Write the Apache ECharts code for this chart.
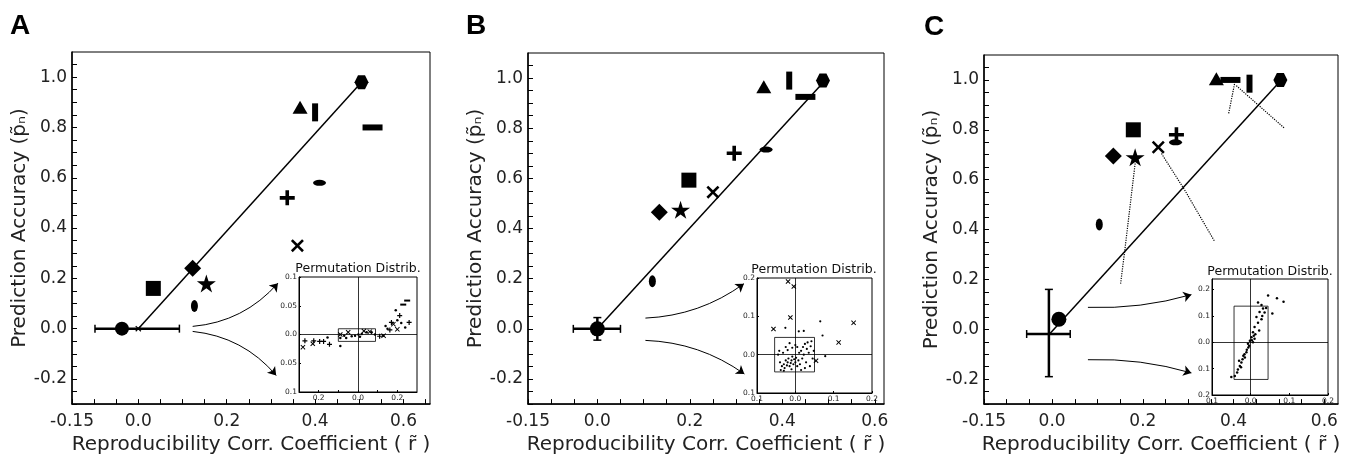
<!DOCTYPE html>
<html>
<head>
<meta charset="utf-8">
<script src="https://cdn.jsdelivr.net/npm/echarts@6/dist/echarts.min.js"></script>
<style>html,body{margin:0;padding:0;background:#fff;} #graph{width:1345px;height:460px;}</style>
</head>
<body>
<div id="graph"></div>
<script>
// marker order shared by the three panels
const markerNames = ['hexagon','triangle','vbar','hbar','hellipse','plus','cross','diamond','star','square','vellipse'];

// panel A
const aX = [0.505, 0.366, 0.400, 0.530, 0.410, 0.337, 0.360, 0.123, 0.154, 0.034, 0.127];
const aY = [0.98, 0.88, 0.86, 0.80, 0.58, 0.52, 0.33, 0.24, 0.18, 0.16, 0.09];
const aRef = [-0.037, 0.0];
const aErrX = [[-0.098, 0.0], [0.093, 0.0]];
const aFit = [[0.0, 0.0], [0.505, 0.98]];
const aArrows = [[0.123, 0.009, 0.316, 0.181], [0.123, -0.011, 0.312, -0.186]];

// panel B
const bX = [0.488, 0.360, 0.415, 0.450, 0.365, 0.296, 0.250, 0.134, 0.180, 0.198, 0.119];
const bY = [0.99, 0.965, 0.99, 0.925, 0.715, 0.70, 0.545, 0.465, 0.475, 0.593, 0.19];
const bRef = [0.0, 0.0];
const bErrX = [[-0.052, 0.0], [0.05, 0.0]];
const bErrY = [[0.0, 0.045], [0.0, -0.045]];
const bFit = [[0.0, 0.0], [0.49, 0.985]];
const bArrows = [[0.104, 0.043, 0.317, 0.18], [0.104, -0.046, 0.318, -0.18]];

// panel C
const cX = [0.503, 0.362, 0.435, 0.393, 0.272, 0.274, 0.234, 0.135, 0.183, 0.179, 0.104];
const cY = [1.0, 1.005, 0.985, 1.0, 0.75, 0.78, 0.73, 0.695, 0.69, 0.80, 0.42];
const cRef = [0.015, 0.04];
const cErrX = [[-0.056, -0.019], [0.04, -0.019]];
const cErrY = [[-0.007, 0.16], [-0.007, -0.19]];
const cFit = [[-0.004, -0.016], [0.5, 0.99]];
const cArrows = [[0.079, 0.088, 0.307, 0.139], [0.079, -0.122, 0.307, -0.175]];
const cDotted = [
  [[0.183, 0.665], [0.16, 0.313], [0.151, 0.183]],
  [[0.241, 0.705], [0.292, 0.559], [0.358, 0.353]],
  [[0.402, 0.984], [0.389, 0.865]],
  [[0.406, 0.977], [0.513, 0.805]]
];

// insets (permutation distributions)
const insetACross = [[-0.28,-0.022],[-0.23,-0.016],[-0.09,0.0],[-0.05,0.004],[0.03,0.006],[0.06,0.005],[0.18,0.018],[0.20,0.009],[0.13,-0.002]];
const insetAPlus = [[-0.27,-0.011],[-0.225,-0.011],[-0.195,-0.012],[-0.175,-0.012],[-0.145,-0.017],[0.162,0.008],[0.17,0.021],[0.212,0.033],[0.26,0.021],[0.11,-0.003]];
const insetADot = [[-0.155,-0.005],[-0.09,-0.006],[-0.09,-0.02],[-0.032,-0.003],[-0.015,-0.002],[0.002,0.0],[0.019,0.001],[0.044,0.004],[0.069,0.004],[0.086,0.0],[0.128,-0.002],[0.192,0.042],[0.14,0.015],[0.15,0.01],[0.2,0.025],[0.22,0.02],[0.24,0.012],[-0.07,-0.002],[-0.06,-0.006],[0.01,-0.004]];
const insetADash = [[0.23,0.052],[0.25,0.059]];
const insetABox = [[-0.1, 0.01], [0.089, -0.012]];

const insetBCross = [[-0.019,0.191],[-0.004,0.178],[-0.013,0.097],[-0.057,0.067],[0.152,0.083],[0.113,0.032],[0.054,-0.016]];
const insetBDot = [[0.065,0.087],[0.071,0.05],[-0.026,0.07],[0.009,0.061],[0.022,0.062],[0.078,-0.004],
  [-0.04,-0.02],[-0.035,-0.03],[-0.03,-0.025],[-0.028,-0.035],[-0.025,-0.015],[-0.022,-0.028],[-0.02,-0.02],[-0.018,-0.01],
  [-0.015,-0.03],[-0.012,-0.022],[-0.01,-0.015],[-0.008,-0.005],[-0.005,-0.025],[-0.003,-0.012],[0.0,-0.02],[0.002,-0.008],
  [0.005,-0.03],[0.008,-0.015],[0.01,0.005],[0.012,-0.025],[0.015,0.01],[0.018,-0.01],[0.02,0.02],[0.022,0.0],[0.025,0.028],
  [0.028,-0.02],[0.03,0.015],[0.032,0.032],[0.035,0.005],[0.038,-0.03],[0.04,0.022],[0.042,0.035],[-0.045,0.0],[-0.042,0.01],
  [-0.038,-0.04],[-0.032,0.005],[-0.025,0.02],[-0.02,0.012],[-0.015,0.03],[-0.008,0.018],[0.0,0.025],[0.005,0.02],[0.045,-0.01],
  [0.048,0.01],[-0.03,-0.042],[-0.01,-0.038],[0.015,-0.04],[0.025,-0.035]];
const insetBBox = [[-0.054, 0.045], [0.05, -0.045]];

const insetCDot = [[0.045,0.177],[0.068,0.167],[0.085,0.154],[0.056,0.109],[0.019,0.151],[0.028,0.141],[0.032,0.128],[0.023,0.115],
  [0.036,0.113],[0.015,0.096],[0.028,0.087],[0.019,0.074],[0.010,0.058],[0.022,0.045],[0.006,0.038],[0.010,0.013],[0.002,0.019],
  [-0.002,0.006],[0.006,0.0],[-0.007,-0.006],[-0.004,-0.013],[-0.010,-0.028],[-0.011,-0.038],[-0.019,-0.051],[-0.015,-0.058],
  [-0.021,-0.064],[-0.024,-0.077],[-0.028,-0.090],[-0.033,-0.103],[-0.035,-0.115],[-0.041,-0.128],[-0.050,-0.132],[0.003,0.008],
  [0.008,0.025],[-0.006,-0.02],[0.012,0.03],[-0.016,-0.045],[-0.03,-0.07],[-0.025,-0.095],[0.03,0.10],[0.04,0.13]];
const insetCBox = [[-0.043, 0.137], [0.045, -0.141]];

const mainXLabels = [-0.15, 0.0, 0.2, 0.4, 0.6];

const FONT = 'DejaVu Sans';
const hexPath = 'path://M25,0 L75,0 L100,50 L75,100 L25,100 L0,50 Z';
const starPath = 'path://M50,0 L61,35 L98,35 L68,57 L79,91 L50,70 L21,91 L32,57 L2,35 L39,35 Z';
const plusPath = 'path://M38,0 H62 V38 H100 V62 H62 V100 H38 V62 H0 V38 H38 Z';
const crossPath = 'path://M0,14 L14,0 L50,36 L86,0 L100,14 L64,50 L100,86 L86,100 L50,64 L14,100 L0,86 L36,50 Z';

const markerStyle = {
  hexagon: [hexPath, [14, 14]],
  triangle: ['triangle', [15, 13]],
  vbar: ['rect', [6, 18]],
  hbar: ['rect', [20, 6]],
  hellipse: ['circle', [13, 6]],
  plus: [plusPath, [15, 15]],
  cross: [crossPath, [13, 13]],
  diamond: ['diamond', [17, 17]],
  star: [starPath, [19, 18]],
  square: ['rect', [15, 15]],
  vellipse: ['circle', [7, 12]]
};

const near = (v, list) => list.some(t => Math.abs(v - t) < 1e-6);

function mainX(gi, max) {
  return {
    type: 'value', gridIndex: gi, min: -0.15, max: max, interval: 0.05,
    axisLine: {show: true, onZero: false, lineStyle: {color: '#000', width: 1.5}},
    axisTick: {inside: true, length: 5, lineStyle: {color: '#000'}},
    splitLine: {show: false},
    axisLabel: {
      showMaxLabel: false, margin: 9, color: '#222', fontFamily: FONT, fontSize: 17,
      formatter: v => near(v, mainXLabels) ? (Math.abs(v + 0.15) < 1e-6 ? '-0.15' : v.toFixed(1)) : ''
    },
    name: 'Reproducibility Corr. Coefficient ( r\u0303 )', nameLocation: 'middle', nameGap: 24,
    nameTextStyle: {color: '#222', fontFamily: FONT, fontSize: 20}
  };
}
function mainY(gi) {
  return {
    type: 'value', gridIndex: gi, min: -0.3, max: 1.1, interval: 0.05,
    axisLine: {show: true, onZero: false, lineStyle: {color: '#000', width: 1.5}},
    axisTick: {inside: true, length: 5, lineStyle: {color: '#000'}},
    splitLine: {show: false},
    axisLabel: {
      showMaxLabel: false, margin: 5, color: '#222', fontFamily: FONT, fontSize: 17,
      formatter: v => (Math.abs(v * 5 - Math.round(v * 5)) < 1e-6 && v > -0.25 && v < 1.05) ? v.toFixed(1) : ''
    },
    name: 'Prediction Accuracy (p\u0303\u2099)', nameLocation: 'middle', nameGap: 37,
    nameTextStyle: {color: '#222', fontFamily: FONT, fontSize: 20}
  };
}
function insetAxis(gi, min, max, interval, shown, dec) {
  return {
    type: 'value', gridIndex: gi, min: min, max: max, interval: interval,
    axisLine: {show: true, onZero: false, lineStyle: {color: '#000', width: 1}},
    axisTick: {inside: true, length: 2, lineStyle: {color: '#000'}},
    splitLine: {show: false},
    axisLabel: {
      showMaxLabel: near(max, shown), margin: 2, color: '#222', fontFamily: FONT, fontSize: 7.5,
      formatter: v => near(v, shown) ? (Math.abs(v) < 1e-9 ? '0.0' : String(+Math.abs(v).toFixed(dec))) : ''
    }
  };
}

function markerSeries(gi, xs, ys) {
  return {
    type: 'scatter', xAxisIndex: gi, yAxisIndex: gi, z: 5,
    itemStyle: {color: '#000', opacity: 1},
    data: markerNames.map((m, i) => ({value: [xs[i], ys[i]], symbol: markerStyle[m][0], symbolSize: markerStyle[m][1]}))
  };
}
function lineSeries(gi, pts, width, type) {
  return {
    type: 'line', xAxisIndex: gi, yAxisIndex: gi, data: pts, symbol: 'none', z: 3,
    lineStyle: {color: '#000', width: width, type: type || 'solid'}, silent: true
  };
}
function errSeries(gi, pts, cap) {
  return {
    type: 'line', xAxisIndex: gi, yAxisIndex: gi, data: pts, symbol: 'rect', symbolSize: cap, z: 4,
    itemStyle: {color: '#000', opacity: 1}, lineStyle: {color: '#000', width: 2.5}, silent: true
  };
}
function refSeries(gi, pt, size) {
  return {type: 'scatter', xAxisIndex: gi, yAxisIndex: gi, data: [pt], symbol: 'circle', symbolSize: size,
    itemStyle: {color: '#000', opacity: 1}, z: 6};
}
function arrowSeries(gi, arr, curv) {
  return {
    type: 'lines', coordinateSystem: 'cartesian2d', xAxisIndex: gi, yAxisIndex: gi,
    symbol: ['none', 'arrow'], symbolSize: 8, silent: true,
    lineStyle: {color: '#000', width: 1, opacity: 1},
    data: arr.map((a, i) => ({coords: [[a[0], a[1]], [a[2], a[3]]], lineStyle: {curveness: curv[i]}}))
  };
}
function insetScatter(gi, pts, symbol, size, extra) {
  return Object.assign({
    type: 'scatter', xAxisIndex: gi, yAxisIndex: gi, data: pts, symbol: symbol, symbolSize: size,
    itemStyle: {color: '#000', opacity: 1}, silent: true
  }, extra || {});
}
function insetFrame(box) {
  return {
    markLine: {silent: true, symbol: 'none', label: {show: false}, lineStyle: {color: '#000', width: 0.8, type: 'solid'},
      data: [{xAxis: 0}, {yAxis: 0}]},
    markArea: {silent: true, itemStyle: {color: 'rgba(0,0,0,0)', borderColor: '#000', borderWidth: 0.8},
      data: [[{coord: box[0]}, {coord: box[1]}]]}
  };
}

const grids = [
  {left: 72, top: 52, width: 358, height: 353},
  {left: 299, top: 277, width: 118, height: 115},
  {left: 528, top: 53, width: 356, height: 354},
  {left: 757, top: 278, width: 115, height: 115},
  {left: 984, top: 55, width: 354, height: 354},
  {left: 1212, top: 279, width: 116, height: 116}
].map(g => Object.assign(g, {show: true, borderColor: '#000', borderWidth: 1, backgroundColor: 'transparent'}));

const insetTitle = (x, y) => ({type: 'text', x: x, y: y,
  style: {text: 'Permutation Distrib.', fontFamily: FONT, fontSize: 12.5, fill: '#111', align: 'center', verticalAlign: 'middle'}});
const panelLetter = (t, x, y) => ({type: 'text', x: x, y: y,
  style: {text: t, fontFamily: 'Liberation Sans', fontWeight: 'bold', fontSize: 28, fill: '#000', verticalAlign: 'middle'}});

const option = {
  animation: false,
  backgroundColor: '#fff',
  grid: grids,
  xAxis: [
    mainX(0, 0.66),
    insetAxis(1, -0.3, 0.3, 0.1, [-0.2, 0, 0.2], 1),
    mainX(2, 0.62),
    insetAxis(3, -0.1, 0.2, 0.1, [-0.1, 0, 0.1, 0.2], 1),
    mainX(4, 0.63),
    insetAxis(5, -0.1, 0.2, 0.1, [-0.1, 0, 0.1, 0.2], 1)
  ],
  yAxis: [
    mainY(0),
    insetAxis(1, -0.1, 0.1, 0.05, [-0.1, -0.05, 0, 0.05, 0.1], 2),
    mainY(2),
    insetAxis(3, -0.1, 0.2, 0.1, [-0.1, 0, 0.1, 0.2], 1),
    mainY(4),
    insetAxis(5, -0.2, 0.24, 0.1, [-0.2, -0.1, 0, 0.1, 0.2], 1)
  ],
  graphic: [
    panelLetter('A', 10, 26),
    panelLetter('B', 466, 26),
    panelLetter('C', 924, 27),
    insetTitle(358, 269),
    insetTitle(814, 270),
    insetTitle(1270, 272)
  ],
  series: [
    // A
    lineSeries(0, aFit, 1.5),
    errSeries(0, aErrX, [1.5, 8]),
    refSeries(0, aRef, 14),
    {type: 'scatter', xAxisIndex: 0, yAxisIndex: 0, data: [aFit[0]], symbol: crossPath, symbolSize: 6, itemStyle: {color: '#000', opacity: 1}},
    markerSeries(0, aX, aY),
    arrowSeries(0, aArrows, [-0.2, 0.2]),
    insetScatter(1, insetADot, 'circle', 2.5, insetFrame(insetABox)),
    insetScatter(1, insetACross, crossPath, 5),
    insetScatter(1, insetAPlus, plusPath, 5),
    insetScatter(1, insetADash, 'rect', [6, 2]),
    // B
    lineSeries(2, bFit, 1.5),
    errSeries(2, bErrX, [1.5, 8]),
    errSeries(2, bErrY, [8, 1.5]),
    refSeries(2, bRef, 15),
    markerSeries(2, bX, bY),
    arrowSeries(2, bArrows, [-0.15, 0.15]),
    insetScatter(3, insetBDot, 'circle', 2.2, insetFrame(insetBBox)),
    insetScatter(3, insetBCross, crossPath, 5),
    // C
    lineSeries(4, cFit, 1.5),
    errSeries(4, cErrX, [1.5, 8]),
    errSeries(4, cErrY, [8, 1.5]),
    refSeries(4, cRef, 15),
    ...cDotted.map(d => lineSeries(4, d, 1.2, 'dotted')),
    markerSeries(4, cX, cY),
    arrowSeries(4, cArrows, [-0.08, 0.08]),
    insetScatter(5, insetCDot, 'circle', 2.5, insetFrame(insetCBox))
  ]
};

const chart = echarts.init(document.getElementById('graph'), null, {renderer: 'canvas'});
chart.setOption(option);
</script>
</body>
</html>
